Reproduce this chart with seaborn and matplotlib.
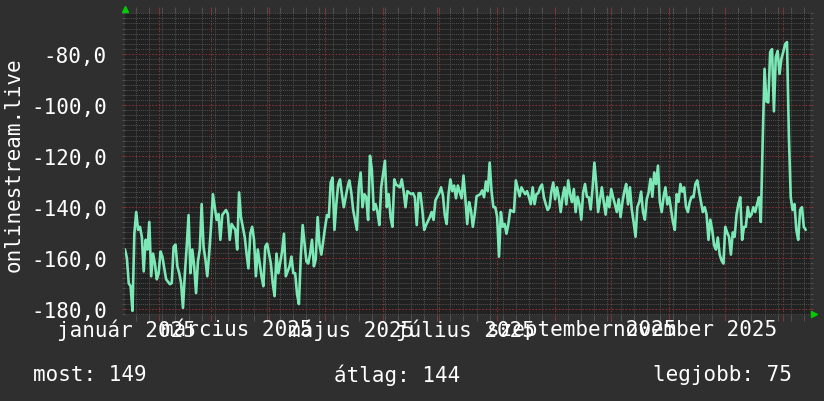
import matplotlib
matplotlib.use("Agg")
import matplotlib.dates as mdates
import matplotlib.pyplot as plt
import pandas as pd
import seaborn as sns
from matplotlib.ticker import FuncFormatter, MultipleLocator, NullFormatter

# --- data --------------------------------------------------------------
START = "2025-01-14"
SPAN_DAYS = 366.3

day_offset = [
    0, 1, 2, 3, 4, 5, 6, 7, 8, 9, 10, 11, 12, 13, 14, 15, 16, 17, 18, 19,
    20, 21, 22, 24, 25, 26, 27, 28, 29, 30, 31, 32, 33, 34, 35, 36, 37, 38, 39, 40,
    41, 42, 43, 44, 45, 46, 47, 49, 50, 51, 52, 54, 55, 56, 57, 59, 60, 61, 62, 64,
    65, 66, 67, 68, 69, 70, 71, 73, 74, 75, 76, 78, 79, 80, 81, 82, 84, 85, 86, 88,
    89, 90, 91, 92, 93, 94, 95, 96, 97, 98, 99, 100, 101, 102, 103, 104, 105, 107, 108, 109,
    110, 111, 112, 113, 114, 115, 116, 117, 118, 119, 120, 121, 122, 124, 125, 126, 127, 128, 129, 130,
    131, 132, 133, 134, 135, 136, 137, 139, 140, 141, 142, 143, 144, 145, 147, 148, 149, 150, 151, 153,
    154, 155, 156, 157, 158, 159, 160, 161, 163, 164, 165, 166, 168, 169, 170, 171, 172, 173, 174, 175,
    176, 177, 178, 180, 181, 182, 183, 184, 185, 186, 187, 188, 190, 191, 192, 193, 194, 195, 196, 197,
    198, 199, 200, 201, 202, 203, 204, 205, 206, 208, 209, 210, 211, 212, 213, 214, 215, 216, 217, 218,
    219, 220, 221, 222, 223, 224, 225, 226, 227, 228, 229, 230, 231, 232, 233, 234, 235, 236, 237, 238,
    239, 240, 241, 242, 243, 244, 245, 246, 247, 248, 249, 250, 251, 252, 253, 254, 255, 256, 257, 258,
    259, 260, 261, 262, 263, 264, 265, 266, 267, 268, 269, 270, 271, 272, 273, 274, 275, 276, 277, 278,
    279, 280, 281, 282, 283, 284, 285, 286, 287, 288, 289, 290, 291, 292, 293, 294, 295, 296, 297, 298,
    299, 300, 301, 302, 303, 304, 305, 306, 307, 308, 309, 310, 311, 312, 313, 314, 315, 316, 317, 318,
    319, 320, 321, 322, 323, 324, 325, 326, 327, 328, 329, 330, 331, 332, 333, 334, 335, 336, 337, 338,
    339, 340, 341, 342, 343, 344, 345, 346, 347, 348, 349, 350, 351, 352, 353, 354, 355, 356, 357, 358,
    359, 360, 361, 362, 363, 364,
]

ping = [
    -156.7, -160.0, -170.0, -171.1, -180.8, -150.5, -142.0, -149.0, -147.8, -151.7,
    -165.3, -152.9, -156.7, -145.9, -167.2, -158.3, -162.2, -168.4, -166.0, -157.5,
    -159.5, -164.1, -168.4, -170.3, -169.9, -155.6, -154.8, -163.3, -166.0, -169.9,
    -179.6, -166.4, -155.6, -143.2, -166.0, -156.7, -163.3, -173.8, -161.4, -156.7,
    -138.9, -155.6, -160.6, -167.2, -158.3, -147.8, -135.0, -145.1, -142.8, -152.9,
    -143.2, -141.2, -142.8, -152.9, -146.7, -149.0, -156.7, -134.3, -144.0, -151.7,
    -158.3, -164.1, -150.5, -147.8, -152.9, -167.2, -156.7, -167.2, -171.1, -155.6,
    -154.4, -162.2, -169.9, -175.0, -158.3, -166.0, -157.5, -150.5, -167.2, -163.3,
    -159.5, -166.0, -166.0, -174.2, -178.1, -159.5, -147.1, -154.4, -161.4, -162.2,
    -158.3, -152.9, -163.3, -160.6, -144.0, -154.8, -158.7, -148.0, -143.2, -144.0,
    -130.4, -128.5, -149.0, -138.9, -131.2, -129.2, -135.0, -140.1, -136.2, -132.3,
    -129.6, -134.3, -141.2, -149.0, -132.3, -126.5, -140.1, -135.0, -136.2, -145.1,
    -119.9, -125.3, -141.2, -138.9, -142.0, -147.1, -132.3, -121.9, -140.1, -135.0,
    -144.0, -147.8, -129.2, -131.2, -132.3, -129.2, -133.8, -140.1, -133.8, -135.0,
    -134.6, -136.2, -147.1, -134.6, -134.6, -141.2, -149.0, -147.1, -144.0, -142.0,
    -145.1, -137.4, -134.6, -132.3, -135.4, -143.2, -146.7, -135.0, -129.2, -133.8,
    -131.6, -136.6, -131.6, -136.6, -127.7, -136.6, -146.7, -138.1, -141.3, -147.8,
    -142.8, -135.8, -135.0, -133.5, -136.2, -130.0, -133.8, -122.6, -133.8, -140.1,
    -140.1, -143.9, -159.5, -142.0, -147.8, -146.7, -150.5, -146.7, -141.2, -142.0,
    -129.6, -132.7, -135.8, -132.3, -133.8, -135.0, -133.8, -136.2, -138.9, -132.3,
    -138.9, -135.0, -134.6, -132.3, -131.2, -136.2, -138.9, -141.2, -140.1, -134.0,
    -130.4, -137.0, -132.3, -136.2, -142.0, -136.0, -132.3, -139.0, -129.6, -135.0,
    -138.1, -133.0, -142.0, -136.0, -139.0, -145.0, -134.3, -131.0, -136.0, -136.2,
    -141.0, -133.0, -122.6, -131.0, -142.0, -137.0, -132.3, -138.0, -143.0, -136.0,
    -140.1, -133.0, -136.2, -139.0, -142.0, -137.0, -144.0, -138.1, -134.0, -131.0,
    -139.0, -132.3, -141.0, -146.0, -151.7, -140.0, -138.1, -134.0, -142.0, -145.0,
    -137.0, -134.3, -129.0, -136.0, -126.5, -131.0, -123.8, -138.0, -142.0, -136.0,
    -132.3, -139.0, -136.2, -141.0, -145.9, -149.0, -135.0, -138.0, -131.0, -134.0,
    -132.3, -140.0, -142.0, -138.1, -136.0, -136.2, -131.0, -129.6, -134.0, -138.0,
    -142.0, -140.1, -143.0, -152.9, -145.0, -149.0, -155.0, -156.7, -152.0, -158.7,
    -161.0, -162.2, -147.8, -150.0, -151.7, -158.7, -150.0, -151.7, -143.0, -138.9,
    -136.2, -152.9, -147.8, -147.8, -140.0, -144.0, -143.0, -140.1, -142.0, -138.9,
    -136.2, -145.9, -114.1, -85.8, -98.6, -99.0, -79.2, -78.1, -102.5, -81.2,
    -78.8, -87.8, -81.9, -79.2, -76.1, -75.3, -112.0, -136.2, -141.2, -138.9,
    -149.0, -152.9, -141.2, -140.1, -147.8, -149.0,
]

label_dates = ["2025-01-15", "2025-03-15", "2025-05-15",
               "2025-07-15", "2025-09-15", "2025-11-15"]
label_text = ["január 2025", "március 2025", "május 2025",
              "július 2025", "szeptember 2025", "november 2025"]

y_title = "onlinestream.live"
summary_text = ["most: 149", "átlag: 144", "legjobb: 75"]

# --- style ----------------------------------------------------------------
BG = "#2f2f2f"
PLOT_BG = "#212121"
LINE = "#7be8b6"
MAJOR = "#7e3434"
MINOR = "#4f4f4f"
ARROW = "#00cc00"
FS = 15

sns.set_style("dark")
plt.rcParams["font.family"] = ["DejaVu Sans Mono", "DejaVu Sans"]

W, H = 824, 402
fig = plt.figure(figsize=(W / 100, H / 100), dpi=100, facecolor=BG)
ax = fig.add_axes([125 / W, 1 - 316 / H, 685 / W, 302 / H])
ax.set_facecolor(PLOT_BG)

start = pd.Timestamp(START)
df = pd.DataFrame({
    "date": start + pd.to_timedelta(day_offset, unit="D"),
    "ping": ping,
})
sns.lineplot(data=df, x="date", y="ping", ax=ax, color=LINE, linewidth=1.9,
             estimator=None, zorder=3)

ax.set_xlim(start, start + pd.Timedelta(days=SPAN_DAYS))
ax.set_ylim(-182.4, -63.9)

# grid: months / weeks, 20 / 2 units
ax.xaxis.set_major_locator(mdates.MonthLocator(bymonthday=1))
ax.xaxis.set_minor_locator(mdates.WeekdayLocator(byweekday=mdates.MO))
ax.xaxis.set_major_formatter(NullFormatter())
ax.yaxis.set_major_locator(MultipleLocator(20))
ax.yaxis.set_minor_locator(MultipleLocator(2))
ax.yaxis.set_major_formatter(FuncFormatter(lambda v, _: f"{v:.1f}".replace(".", ",")))

ax.grid(which="major", color=MAJOR, linestyle=(0, (1.5, 1.5)), linewidth=0.8)
ax.grid(which="minor", color=MINOR, linestyle=(0, (1, 1)), linewidth=0.7)
ax.set_axisbelow(True)

ax.tick_params(axis="x", which="both", top=True, bottom=True, direction="out",
               length=4, width=0.8)
ax.tick_params(axis="y", which="both", left=True, right=True, direction="out",
               length=2.5, width=0.8, pad=10.5)
ax.tick_params(which="major", color=MAJOR)
ax.tick_params(which="minor", color=MINOR)
ax.tick_params(axis="y", labelsize=FS, labelcolor="white")
ax.set_xlabel("")
ax.set_ylabel("")
for s in ax.spines.values():
    s.set_visible(False)

xt = ax.get_xaxis_transform()
for d, t in zip(label_dates, label_text):
    ax.text(pd.Timestamp(d), -0.047, t, transform=xt, ha="center", va="center",
            fontsize=FS, color="white")

# rrdtool-style axis arrows
ax.plot([0], [1.013], marker="^", ms=5, color=ARROW, transform=ax.transAxes,
        clip_on=False, zorder=5)
ax.plot([1.006], [0.003], marker=">", ms=5, color=ARROW, transform=ax.transAxes,
        clip_on=False, zorder=5)

fig.text(14 / W, 1 - 165 / H, y_title, rotation=90, ha="center", va="center",
         fontsize=FS, color="white")

ty = 1 - 375 / H
fig.text(33 / W, ty, summary_text[0], ha="left", va="center", fontsize=FS, color="white")
fig.text(334 / W, ty, summary_text[1], ha="left", va="center", fontsize=FS, color="white")
fig.text(792 / W, ty, summary_text[2], ha="right", va="center", fontsize=FS, color="white")

fig.savefig("out.png", dpi=100, facecolor=BG)
